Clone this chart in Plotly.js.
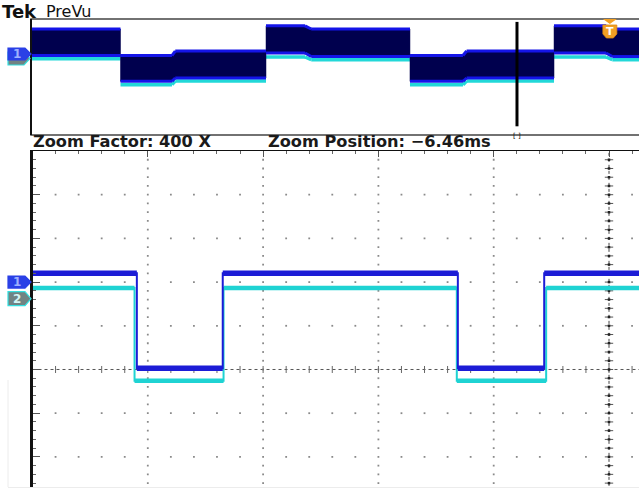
<!DOCTYPE html>
<html><head><meta charset="utf-8">
<script src="https://cdn.plot.ly/plotly-3.0.1.min.js"></script>
<style>html,body{margin:0;padding:0;background:#fff;overflow:hidden}#chart{width:639px;height:490px}</style>
</head><body><div id="chart"></div>
<script>
// ================= DATA =================
// Zoomed window: x = horizontal divisions from the left edge of the view, y = vertical divisions from centre
const ch1Time  = [0, 0.905, 0.905, 1.650, 1.650, 3.689, 3.689, 4.438, 4.438, 5.40];
const ch1Level = [2.20, 2.20, 0.03, 0.03, 2.20, 2.20, 0.03, 0.03, 2.20, 2.20];
const ch2Time  = [0, 0.885, 0.885, 1.657, 1.657, 3.680, 3.680, 4.455, 4.455, 5.40];
const ch2Level = [1.865, 1.865, -0.26, -0.26, 1.865, 1.865, -0.26, -0.26, 1.865, 1.865];
const ch1Ground = [2.0];
const ch2Ground = [1.62];

// PreVu overview: envelope of the full record
const pvTime   = [0, 1.458, 1.458, 2.306, 2.36, 3.855, 3.855, 4.498, 4.60, 6.227, 6.227, 7.10, 7.16, 8.60, 8.60, 9.456, 9.56, 10];
const pvCh1Max = [3.31, 3.31, 1.48, 1.48, 1.79, 1.79, 3.53, 3.53, 3.31, 3.31, 1.48, 1.48, 1.79, 1.79, 3.53, 3.53, 3.31, 3.31];
const pvCh1Min = [1.48, 1.48, -0.30, -0.30, -0.07, -0.07, 1.66, 1.66, 1.41, 1.41, -0.30, -0.30, -0.07, -0.07, 1.66, 1.66, 1.41, 1.41];
const pvCh2Min = [1.26, 1.26, -0.53, -0.53, -0.28, -0.28, 1.38, 1.38, 1.19, 1.19, -0.53, -0.53, -0.28, -0.28, 1.38, 1.38, 1.19, 1.19];
const pvZoomMarker = [7.99];
const pvTrigger = [9.52];

const headerTexts = ['Tek', 'PreVu'];
const zoomFactorText = 'Zoom Factor: 400 X';
const zoomPositionText = 'Zoom Position: \u22126.46ms';
const channelLabels = ['1', '2'];

// ================= STYLE / LAYOUT =================
const W = 639, H = 490;
const X = p => p / W;
const Y = p => 1 - p / H;
const FONT = 'DejaVu Sans';
const C1 = '#1c1cd6', C2 = '#1fd3d3', NAVY = '#00004e', EDGE = '#1414e8';

function horizontalParts(xs, ys) {
  const hx = [], hy = [];
  for (let i = 0; i < xs.length - 1; i++) {
    if (xs[i + 1] !== xs[i]) { hx.push(xs[i], xs[i + 1], null); hy.push(ys[i], ys[i + 1], null); }
  }
  return [hx, hy];
}

const traces = [];
// graticule dots
const gx = [], gy = [];
[1, 2, 3, 4].forEach(v => { for (let k = -13; k <= 24; k++) { gx.push(v); gy.push(k * 0.2); } });
[-2, -1, 1, 2, 3, 4].forEach(h => { for (let m = 1; m <= 26; m++) { if (m % 5) { gx.push(m * 0.2); gy.push(h); } } });
traces.push({x: gx, y: gy, xaxis: 'x', yaxis: 'y', mode: 'markers', marker: {symbol: 'square', size: 1.8, color: '#8a8a8a'}});
// centre line ticks
const hx = [], hy = [];
for (let m = 1; m <= 26; m++) { hx.push(m * 0.2); hy.push(0); }
traces.push({x: hx, y: hy, mode: 'markers', marker: {symbol: 'line-ns', size: 5, line: {width: 1, color: '#666'}}});
const vx = [], vy = [];
for (let k = -13; k <= 24; k++) { vx.push(5); vy.push(k * 0.2); }
traces.push({x: vx, y: vy, mode: 'markers', marker: {symbol: 'line-ew', size: 6, line: {width: 1, color: '#555'}}});
traces.push({x: vx, y: vy, mode: 'markers', marker: {symbol: 'square', size: 2.5, color: '#222'}});

// channel 2 then channel 1 (main)
let p2 = horizontalParts(ch2Time, ch2Level);
traces.push({x: ch2Time, y: ch2Level, mode: 'lines', line: {color: C2, width: 2}});
traces.push({x: p2[0], y: p2[1], mode: 'lines', line: {color: C2, width: 4.5}});
let p1 = horizontalParts(ch1Time, ch1Level);
traces.push({x: ch1Time, y: ch1Level, mode: 'lines', line: {color: C1, width: 2}});
traces.push({x: p1[0], y: p1[1], mode: 'lines', line: {color: C1, width: 5.5}});

// PreVu
let q2 = horizontalParts(pvTime, pvCh2Min);
traces.push({x: q2[0], y: q2[1], xaxis: 'x2', yaxis: 'y2', mode: 'lines', line: {color: '#22d8d8', width: 3.5}});
traces.push({x: pvTime.concat(pvTime.slice().reverse()), y: pvCh1Max.concat(pvCh1Min.slice().reverse()),
  xaxis: 'x2', yaxis: 'y2', mode: 'lines', fill: 'toself', fillcolor: NAVY, line: {width: 0.5, color: NAVY}});
let qt = horizontalParts(pvTime, pvCh1Max), qb = horizontalParts(pvTime, pvCh1Min);
traces.push({x: qt[0], y: qt[1], xaxis: 'x2', yaxis: 'y2', mode: 'lines', line: {color: EDGE, width: 3}});
traces.push({x: qb[0], y: qb[1], xaxis: 'x2', yaxis: 'y2', mode: 'lines', line: {color: EDGE, width: 3}});
traces.push({x: [pvZoomMarker[0], pvZoomMarker[0]], y: [3.8, -3.4], xaxis: 'x2', yaxis: 'y2', mode: 'lines', line: {color: '#000', width: 3}});

function pent(x0, y0, y1, tip, fill, line) {
  const ym = (y0 + y1) / 2;
  return {type: 'path', xref: 'paper', yref: 'paper', fillcolor: fill, line: {color: line, width: 1.2},
    path: `M${X(x0)},${Y(y0)} L${X(tip - 6)},${Y(y0)} L${X(tip)},${Y(ym)} L${X(tip - 6)},${Y(y1)} L${X(x0)},${Y(y1)} Z`};
}
function yMain(v) { return 369.5 - v * 43.7; }

const t = pvTrigger[0], u = 0.115;
const shapes = [
  // preview frame
  {type: 'rect', xref: 'paper', yref: 'paper', x0: X(31), x1: X(660), y0: Y(135), y1: Y(19), line: {color: '#444', width: 1.5}},
  {type: 'line', xref: 'paper', yref: 'paper', x0: X(31), x1: X(31), y0: Y(135), y1: Y(19), line: {color: '#111', width: 2}},
  // faint bezel
  {type: 'line', xref: 'paper', yref: 'paper', x0: X(8), x1: X(8), y0: Y(487), y1: Y(380), line: {color: '#ececec', width: 1}},
  {type: 'line', xref: 'paper', yref: 'paper', x0: X(8), x1: X(639), y0: Y(487.5), y1: Y(487.5), line: {color: '#ececec', width: 1}},
  // centre lines
  {type: 'line', xref: 'x', yref: 'y', x0: 0, x1: 5.3, y0: 0, y1: 0, layer: 'below', line: {color: '#555', width: 1, dash: 'dot'}},
  {type: 'line', xref: 'x', yref: 'y', x0: 5, x1: 5, y0: -2.8, y1: 5, layer: 'below', line: {color: '#444', width: 1, dash: 'dot'}},
  // channel markers (main)
  pent(8, yMain(ch1Ground[0]) - 6, yMain(ch1Ground[0]) + 6, 31, '#2a40e6', '#2a40e6'),
  pent(8, yMain(ch2Ground[0]) - 7, yMain(ch2Ground[0]) + 7, 31, '#718383', '#33e0e0'),
  // channel markers (preview)
  pent(8, 52, 65, 30, '#718383', '#33e0e0'),
  pent(8, 48, 60, 31, '#2a40e6', '#2a40e6'),
  // trigger marker
  {type: 'path', xref: 'x2', yref: 'paper', fillcolor: '#f2a024', line: {width: 0},
    path: `M${t - u},${Y(19)} L${t + u},${Y(19)} L${t},${Y(24)} Z`},
  {type: 'path', xref: 'x2', yref: 'paper', fillcolor: '#f2a024', line: {color: '#e08a10', width: 0.8},
    path: `M${t - u},${Y(25)} L${t + u},${Y(25)} L${t + u},${Y(34)} L${t + u * 0.5},${Y(38)} L${t - u * 0.5},${Y(38)} L${t - u},${Y(34)} Z`}
];

const ann = (x, y, text, size, color, extra) => Object.assign({xref: 'paper', yref: 'paper', x: X(x), y: Y(y), text, showarrow: false,
  xanchor: 'left', yanchor: 'middle', font: {family: FONT, size, color}}, extra || {});
const annotations = [
  ann(1, 0, '<b>' + headerTexts[0] + '</b>', 18, '#111', {yanchor: 'top', borderpad: 0}),
  ann(45, 1, headerTexts[1], 16, '#111', {yanchor: 'top', borderpad: 0}),
  ann(31, 142, '<b>' + zoomFactorText + '</b>', 16.2, '#1a1a1a'),
  ann(266, 142, '<b>' + zoomPositionText + '</b>', 16.2, '#1a1a1a'),
  ann(17, yMain(ch1Ground[0]), '<b>' + channelLabels[0] + '</b>', 12, '#9fb0ff', {xanchor: 'center'}),
  ann(17, yMain(ch2Ground[0]), '<b>' + channelLabels[1] + '</b>', 12, '#d4f4f4', {xanchor: 'center'}),
  ann(17, 54, '<b>' + channelLabels[0] + '</b>', 12, '#9fb0ff', {xanchor: 'center'}),
  ann(610, 31.5, '<b>T</b>', 11, '#fff', {xanchor: 'center'}),
  {xref: 'x2', yref: 'paper', x: pvZoomMarker[0], y: Y(130), text: '[ ]', showarrow: false, font: {family: FONT, size: 7, color: '#111'}}
];

const layout = {
  width: W, height: H, margin: {l: 0, r: 0, t: 0, b: 0}, paper_bgcolor: '#fff', plot_bgcolor: '#fff',
  showlegend: false, hovermode: false,
  xaxis: {domain: [X(32.5), 1], range: [0, (639 - 32.5) / 115.3], side: 'top', showgrid: false, zeroline: false,
    showline: true, linecolor: '#111', linewidth: 1.5, ticks: 'inside', tick0: 0, dtick: 1, ticklen: 6, tickcolor: '#555', tickwidth: 1,
    minor: {dtick: 0.2, tick0: 0, ticks: 'inside', ticklen: 3, tickcolor: '#666', tickwidth: 1}, showticklabels: false, fixedrange: true},
  yaxis: {domain: [Y(488), Y(151)], range: [-2.712, 5.0], showgrid: false, zeroline: false,
    showline: true, linecolor: '#111', linewidth: 2.5, ticks: 'inside', tick0: 0, dtick: 1, ticklen: 7, tickcolor: '#555', tickwidth: 1,
    minor: {dtick: 0.2, tick0: 0, ticks: 'inside', ticklen: 3.5, tickcolor: '#666', tickwidth: 1}, showticklabels: false, fixedrange: true},
  xaxis2: {domain: [X(32), 1], range: [0, 10], visible: false, fixedrange: true},
  yaxis2: {domain: [Y(135), Y(19)], range: [-4, 4], visible: false, fixedrange: true},
  shapes, annotations
};
traces.forEach(tr => { if (!tr.xaxis) { tr.xaxis = 'x'; tr.yaxis = 'y'; } tr.hoverinfo = 'skip'; tr.showlegend = false; });
Plotly.newPlot('chart', traces, layout, {staticPlot: true, displayModeBar: false});
</script></body></html>
